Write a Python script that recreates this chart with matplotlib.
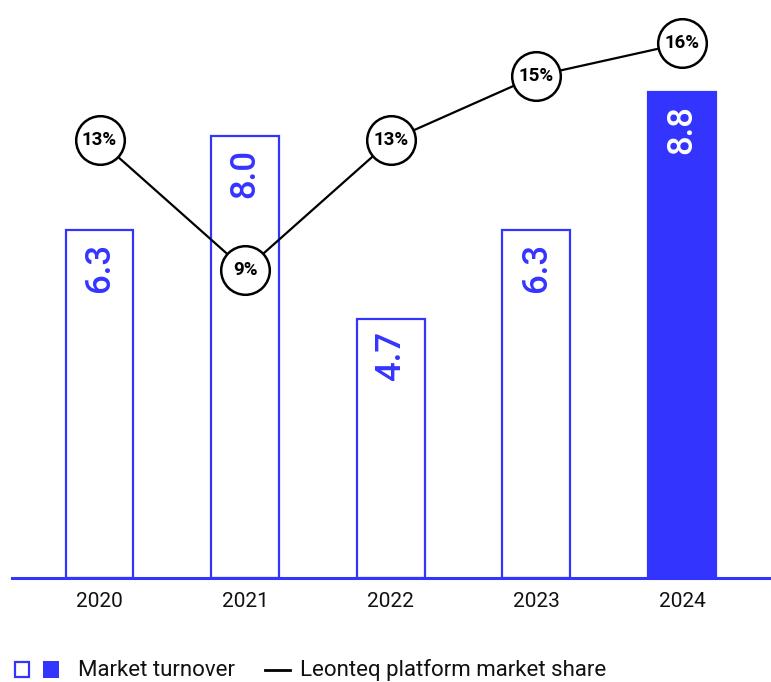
import matplotlib
matplotlib.use("Agg")
import matplotlib.pyplot as plt
from matplotlib.patches import Rectangle
import matplotlib.lines as mlines
from matplotlib import font_manager

# Market turnover (bars) and platform market share (line)
years = ["2020", "2021", "2022", "2023", "2024"]
turnover = [6.3, 8.0, 4.7, 6.3, 8.8]
market_share = [13, 9, 13, 15, 16]
highlight = [False, False, False, False, True]

BLUE = "#3434FF"

names = {f.name for f in font_manager.fontManager.ttflist}
FONT = "Liberation Sans Narrow" if "Liberation Sans Narrow" in names else "Roboto"
plt.rcParams["font.family"] = [FONT, "DejaVu Sans"]

fig = plt.figure(figsize=(7.71, 6.82), dpi=100)
W, H = 771, 682
ax = fig.add_axes([12 / W, (H - 578) / H, (W - 12) / W, 578 / H])
ax.set_xlim(-0.601, 4.612)
ax.set_ylim(0, 10.47)

x = list(range(len(years)))
for xi, val, hl in zip(x, turnover, highlight):
    ax.bar(xi, val, width=0.465,
           facecolor=BLUE if hl else "white",
           edgecolor=BLUE, linewidth=1.6, zorder=2)
    ax.annotate(f"{val:.1f}", (xi, val), xytext=(0, -9), textcoords="offset points",
                rotation=90, ha="center", va="top", fontsize=25, fontweight="medium",
                color="white" if hl else BLUE, zorder=3)

for side in ["top", "left", "right"]:
    ax.spines[side].set_visible(False)
ax.spines["bottom"].set_color(BLUE)
ax.spines["bottom"].set_linewidth(2.2)
ax.set_yticks([])
ax.set_xticks(x)
ax.set_xticklabels(years, fontsize=15)
ax.tick_params(axis="x", length=0, pad=10, colors="#111111")

# Market share on a secondary scale
ax2 = ax.twinx()
ax2.set_ylim(-0.533, 17.345)
ax2.axis("off")
ax2.plot(x, market_share, color="black", linewidth=1.6, zorder=4,
         marker="o", markersize=35, markerfacecolor="white",
         markeredgecolor="black", markeredgewidth=1.8)
for xi, v in zip(x, market_share):
    ax2.text(xi, v, f"{v}%", ha="center", va="center", fontsize=13.5,
             fontweight="bold", color="black", zorder=5)

# Legend row
ly = (H - 670) / H
fig.patches.append(Rectangle((15 / W, (H - 677) / H), 14 / W, 15 / H,
                             transform=fig.transFigure, facecolor="white",
                             edgecolor=BLUE, linewidth=1.6))
fig.patches.append(Rectangle((43 / W, (H - 678) / H), 16 / W, 17 / H,
                             transform=fig.transFigure, facecolor=BLUE,
                             edgecolor=BLUE, linewidth=0))
fig.text(78 / W, ly, "Market turnover", fontsize=16, va="center", color="#111111")
fig.lines.append(mlines.Line2D([265 / W, 290 / W], [ly, ly], transform=fig.transFigure,
                               color="black", linewidth=2))
fig.text(300 / W, ly, "Leonteq platform market share", fontsize=16, va="center",
         color="#111111")

fig.savefig("out.png", dpi=100)
